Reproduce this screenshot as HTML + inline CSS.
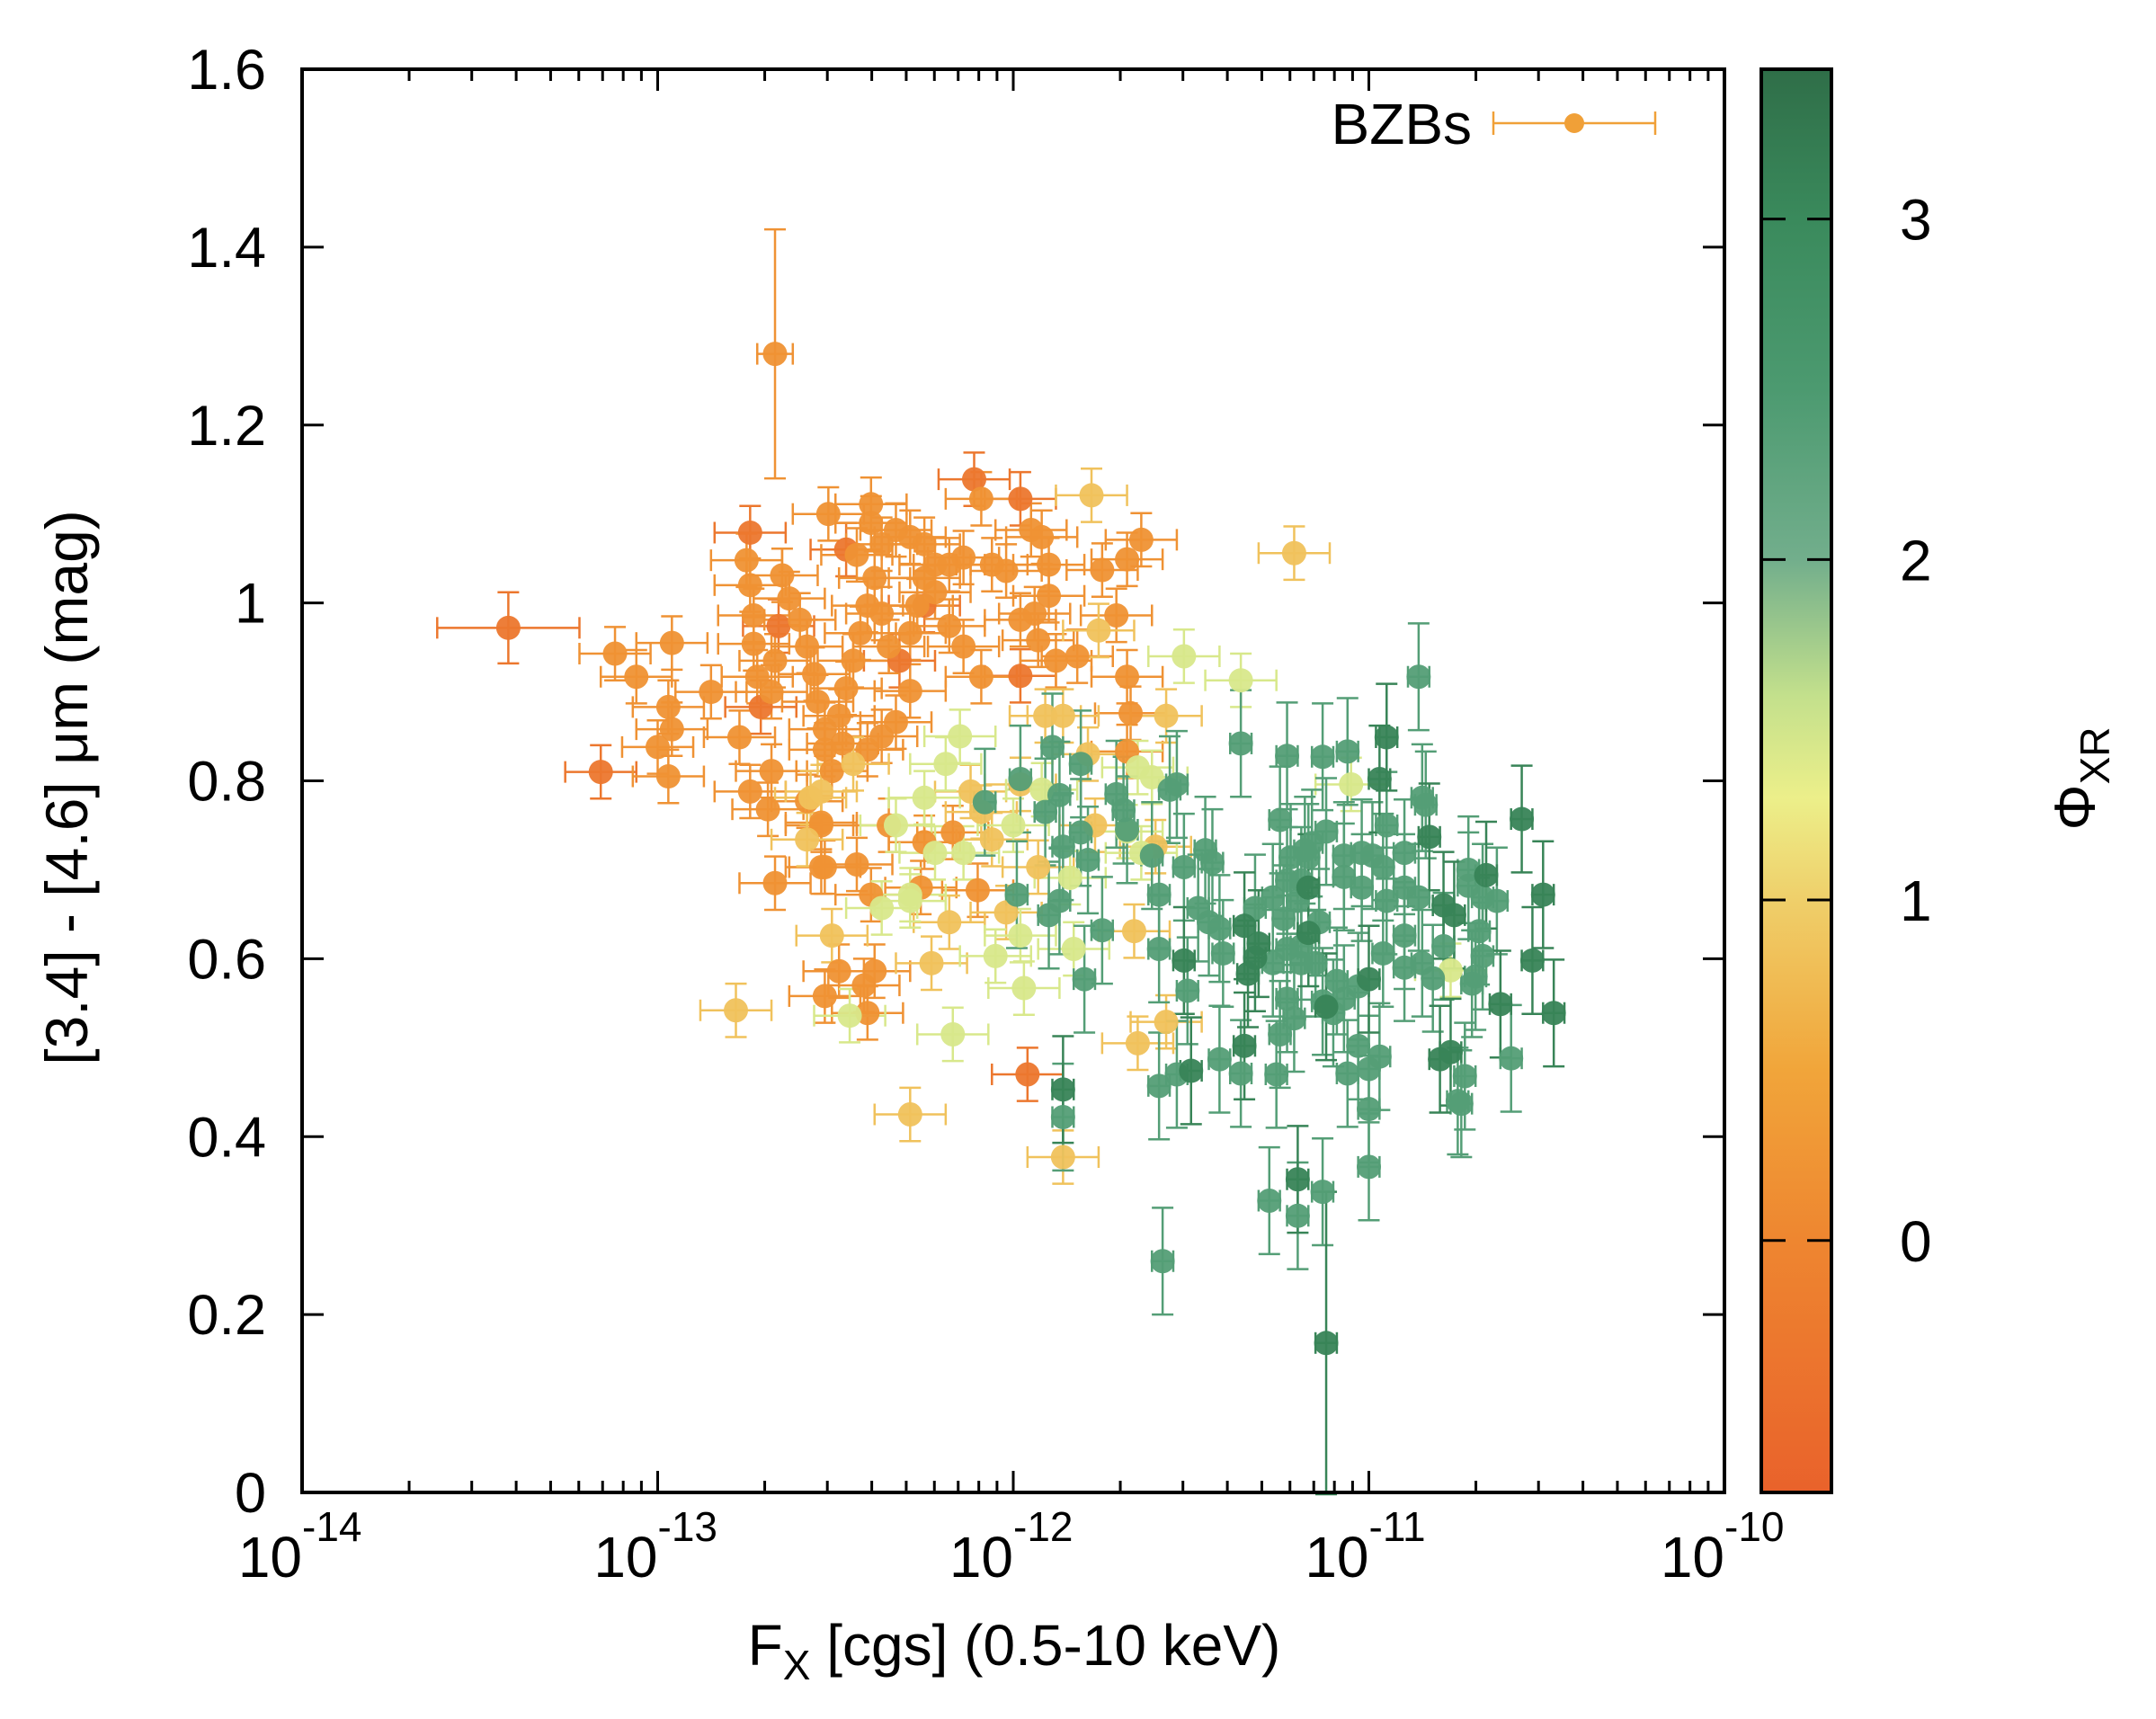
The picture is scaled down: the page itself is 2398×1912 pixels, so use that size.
<!DOCTYPE html>
<html><head><meta charset="utf-8"><style>
html,body{margin:0;padding:0;background:#fff;}
svg{display:block;font-family:"Liberation Sans",sans-serif;}
</style></head><body>
<svg id="chart" width="2398" height="1912" viewBox="0 0 2398 1912" xmlns="http://www.w3.org/2000/svg">
<defs>
<linearGradient id="cbgrad" x1="0" y1="1" x2="0" y2="0"></linearGradient>
</defs>
<g id="errs"></g>
<g id="pts"></g>
<g id="axes"></g>
</svg>
<script>
// ---- data ----
const phiLevels = [-0.3, 0.2, 0.85, 1.45, 2.4, 3.1];
const logFxR = [-13.42,-13.16,-12.74,-12.71,-12.66,-12.47,-12.32,-12.11,-11.98,-12.25,-11.98,-11.96];
const colR   = [0.972,0.810,1.079,0.883,0.974,1.060,0.935,1.139,1.117,0.997,0.918,0.470];
const logFxO = [-12.67,-13.12,-13.06,-12.96,-12.97,-12.96,-12.85,-13.00,-12.97,-12.75,-12.74,-12.73,-12.73,-12.72,-12.77,-12.68,-12.67,-12.65,-12.63,-12.60,-12.58,-12.56,-12.55,-12.53,-12.53,-12.54,-12.54,-12.51,-12.49,-12.47,-12.45,-12.43,-12.41,-12.39,-12.37,-12.33,-12.29,-12.25,-12.52,-12.44,-12.40,-12.40,-12.37,-12.35,-12.29,-12.27,-12.25,-12.22,-12.18,-12.14,-12.09,-12.06,-12.02,-11.95,-11.92,-11.90,-11.90,-11.94,-11.98,-11.93,-11.88,-11.82,-11.75,-11.71,-11.68,-11.64,-11.68,-11.67,-11.68,-12.09,-12.14,-12.18,-12.22,-12.29,-12.33,-12.37,-12.41,-12.48,-12.68,-12.74,-12.69,-12.58,-12.54,-12.53,-12.44,-12.40,-12.67,-12.26,-12.25,-12.17,-12.10,-12.35,-12.53,-12.49,-12.42,-12.39,-12.41];
const colO   = [1.280,0.943,0.917,0.955,0.883,0.858,0.900,0.838,0.805,1.048,1.020,0.986,0.954,0.917,0.849,0.900,0.935,1.031,1.005,0.981,0.951,0.920,0.889,0.858,0.835,0.750,0.703,0.811,0.873,0.904,0.935,0.966,0.997,1.028,1.066,1.082,1.074,1.066,1.100,1.054,1.111,1.090,0.988,0.951,0.966,0.997,1.028,1.043,1.043,1.051,1.117,1.043,1.036,1.082,1.074,1.043,1.008,0.988,0.981,0.958,0.935,0.940,1.037,0.986,1.049,1.071,0.917,0.876,0.833,0.917,0.951,0.974,1.012,0.901,0.866,0.850,0.835,0.842,0.811,0.788,0.768,0.777,0.753,0.703,0.706,0.672,0.685,0.680,0.731,0.742,0.677,0.750,0.558,0.586,0.570,0.586,0.539];
const logFxY = [-12.54,-12.57,-12.45,-12.58,-12.02,-12.51,-12.78,-12.29,-11.86,-11.21,-11.78,-11.76,-11.57,-11.66,-11.60,-11.65,-11.57,-11.79,-11.86,-11.91,-11.77,-12.09,-12.06,-12.18,-12.23,-12.12,-11.98,-11.93];
const colY   = [0.788,0.781,0.819,0.734,0.652,0.626,0.542,0.425,0.377,1.056,1.121,0.969,0.873,0.631,0.726,0.505,0.529,0.830,0.873,0.873,0.750,0.765,0.734,0.641,0.595,0.788,0.796,0.703];
const logFxL = [-12.46,-12.17,-11.36,-11.52,-11.65,-11.61,-11.68,-11.64,-11.83,-11.92,-11.97,-11.84,-12.00,-12.14,-12.29,-12.22,-12.15,-12.19,-12.25,-12.33,-12.29,-12.37,-12.05,-11.98,-11.05,-10.77];
const colL   = [0.536,0.515,0.913,0.940,0.815,0.804,0.743,0.719,0.611,0.790,0.567,0.691,0.750,0.719,0.665,0.719,0.850,0.819,0.781,0.750,0.672,0.657,0.603,0.626,0.796,0.587];
const logFxG = [-11.89,-11.99,-11.98,-12.08,-11.87,-11.91,-11.86,-11.81,-11.81,-11.79,-11.90,-11.87,-11.75,-11.80,-11.71,-11.69,-11.68,-11.61,-11.59,-11.59,-11.56,-11.54,-11.52,-11.46,-11.48,-11.45,-11.41,-11.44,-11.42,-11.51,-11.54,-11.59,-11.58,-11.86,-11.36,-11.25,-11.23,-11.18,-11.17,-11.16,-11.22,-11.23,-11.19,-11.20,-11.24,-11.27,-11.32,-11.27,-11.23,-11.19,-11.23,-11.21,-11.25,-11.26,-11.36,-11.42,-11.13,-11.06,-10.86,-10.85,-10.84,-10.90,-10.95,-10.99,-11.02,-11.07,-11.12,-11.07,-11.02,-10.96,-10.95,-10.90,-10.86,-10.72,-10.72,-10.68,-10.64,-10.69,-10.68,-10.79,-10.85,-10.90,-10.96,-11.03,-11.07,-11.09,-11.13,-11.15,-11.10,-11.19,-11.14,-11.03,-10.97,-11.00,-11.06,-11.00,-11.00,-10.73,-10.74,-10.71,-10.70,-10.60,-11.13,-11.20,-11.28,-10.90,-10.82,-10.75];
const colG   = [0.838,0.672,0.802,0.776,0.784,0.765,0.726,0.742,0.819,0.711,0.649,0.665,0.632,0.577,0.785,0.767,0.745,0.716,0.672,0.611,0.790,0.796,0.703,0.722,0.657,0.641,0.606,0.708,0.634,0.564,0.470,0.457,0.260,0.422,0.842,0.756,0.828,0.722,0.714,0.730,0.714,0.688,0.688,0.665,0.645,0.669,0.657,0.595,0.611,0.595,0.555,0.533,0.515,0.470,0.471,0.487,0.827,0.833,0.917,0.781,0.773,0.719,0.750,0.716,0.719,0.716,0.743,0.692,0.680,0.703,0.665,0.680,0.669,0.682,0.700,0.669,0.665,0.631,0.603,0.614,0.595,0.590,0.606,0.569,0.555,0.575,0.552,0.595,0.539,0.614,0.641,0.502,0.490,0.476,0.471,0.431,0.366,0.468,0.437,0.572,0.580,0.488,0.338,0.311,0.328,0.626,0.578,0.440];
const logFxD = [-11.52,-11.50,-11.86,-11.35,-11.31,-11.32,-11.34,-11.35,-10.97,-10.95,-10.83,-10.79,-10.76,-10.67,-11.00,-11.12,-11.17,-11.17,-10.80,-10.77,-10.63,-10.57,-10.51,-10.54,-10.48,-11.20,-11.12];
const colD   = [0.598,0.474,0.453,0.637,0.617,0.601,0.583,0.502,0.802,0.849,0.737,0.660,0.649,0.694,0.577,0.546,0.680,0.629,0.487,0.495,0.549,0.757,0.672,0.598,0.539,0.352,0.168];
const xTicks = [-14,-13,-12,-11,-10];
const xTickLabels = ["-14","-13","-12","-11","-10"];
const yTicks = [0,0.2,0.4,0.6,0.8,1,1.2,1.4,1.6];
const yTickLabels = ["0","0.2","0.4","0.6","0.8","1","1.2","1.4","1.6"];
const cbTicks = [0,1,2,3];
const cbStops = [-0.74,0,0.5,1.0,1.3,1.6,2.0,2.5,3.0,3.44];
const cbColors = ["#e9622b","#ee8630","#f1a53a","#efcf6a","#ecef8a","#c3e08c","#72ae8c","#4c9a70","#3a8a5c","#2f6e48"];

// ---- geometry ----
const L=336,R=1918,T=77,B=1660, CBL=1959,CBR=2037;
const xs = v => L + (v+14)/4*(R-L);
const ys = v => B - v/1.6*(B-T);
const cbs = v => B - (v-(-0.74))/(3.44+0.74)*(B-T);
const NS="http://www.w3.org/2000/svg";
function mk(tag, attrs, parent){const e=document.createElementNS(NS,tag);for(const k in attrs)e.setAttribute(k,attrs[k]);if(parent)parent.appendChild(e);return e;}
function hex2(c){return [1,3,5].map(i=>parseInt(c.substr(i,2),16));}
function cmap(p){
  if(p<=cbStops[0])return cbColors[0];
  for(let i=1;i<cbStops.length;i++){if(p<=cbStops[i]){const t=(p-cbStops[i-1])/(cbStops[i]-cbStops[i-1]);const a=hex2(cbColors[i-1]),b=hex2(cbColors[i]);return "rgb("+a.map((v,j)=>Math.round(v+(b[j]-v)*t)).join(",")+")";}}
  return cbColors[cbColors.length-1];
}
const gE=document.getElementById('errs'), gP=document.getElementById('pts'), gA=document.getElementById('axes');

const groups=[[logFxR,colR,phiLevels[0]],[logFxO,colO,phiLevels[1]],[logFxY,colY,phiLevels[2]],[logFxL,colL,phiLevels[3]],[logFxG,colG,phiLevels[4]],[logFxD,colD,phiLevels[5]]];
function drawPoint(lx,y,phi){
  const c=cmap(phi);
  const green = phi>1.9;
  let dx = green?0.03:0.1, dy = green?0.06:0.03;
  if(lx<-13.3){dx=0.2;dy=0.04;}
  if(y>1.2){dx=0.05;dy=0.14;}
  if(y<0.2){dy=0.17;}
  const x=xs(lx), yy=ys(y), x1=xs(lx-dx), x2=xs(lx+dx), y1=ys(y-dy), y2=ys(y+dy);
  const g=mk('g',{stroke:c,'stroke-width':2.5},gE);
  
  
  mk('line',{x1:x1,y1:yy,x2:x2,y2:yy},g);
  mk('line',{x1:x1,y1:yy-12,x2:x1,y2:yy+12},g);
  mk('line',{x1:x2,y1:yy-12,x2:x2,y2:yy+12},g);
  mk('line',{x1:x,y1:y1,x2:x,y2:y2},g);
  mk('line',{x1:x-12,y1:y1,x2:x+12,y2:y1},g);
  mk('line',{x1:x-12,y1:y2,x2:x+12,y2:y2},g);
  const p=mk('circle',{cx:x,cy:yy,r:13.5,fill:c,'fill-opacity':0.95},gP);
  
  
}
groups.forEach(([xa,ya,phi])=>{for(let i=0;i<xa.length;i++)drawPoint(xa[i],ya[i],phi);});

// ticks
const tk=mk('g',{stroke:'#000','stroke-width':3},gA);
xTicks.forEach((d,i)=>{
  const x=xs(d);
  mk('line',{x1:x,y1:B,x2:x,y2:B-24},tk);mk('line',{x1:x,y1:T,x2:x,y2:T+24},tk);
  if(i<xTicks.length-1){for(let m=2;m<=9;m++){const xm=xs(d+Math.log10(m));mk('line',{x1:xm,y1:B,x2:xm,y2:B-13},tk);mk('line',{x1:xm,y1:T,x2:xm,y2:T+13},tk);}}
  const t=mk('text',{x:x,y:1754,'text-anchor':'end','font-size':64,fill:'#000'},gA);
  t.textContent='10';
  
  
  const e=mk('text',{x:x,y:1714,'text-anchor':'start','font-size':46,fill:'#000'},gA);
  e.textContent=xTickLabels[i];
  
  
});
yTicks.forEach((v,i)=>{
  const y=ys(v);
  mk('line',{x1:L,y1:y,x2:L+24,y2:y},tk);mk('line',{x1:R,y1:y,x2:R-24,y2:y},tk);
  const t=mk('text',{x:296,y:y+22,'text-anchor':'end','font-size':63,fill:'#000'},gA);
  t.textContent=yTickLabels[i];
  
  
});
const frame=mk('rect',{x:L,y:T,width:R-L,height:B-T,fill:'none',stroke:'#000','stroke-width':4},gA);



// colorbar
const grad=document.getElementById('cbgrad');
cbStops.forEach((s,i)=>mk('stop',{offset:((s+0.74)/4.18),'stop-color':cbColors[i]},grad));
const cb=mk('rect',{x:CBL,y:T,width:CBR-CBL,height:B-T,fill:'url(#cbgrad)',stroke:'#000','stroke-width':4},gA);


const cbtk=mk('g',{stroke:'#000','stroke-width':3},gA);


cbTicks.forEach(v=>{
  const y=cbs(v);
  mk('line',{x1:CBL,y1:y,x2:CBL+27,y2:y},cbtk);mk('line',{x1:CBR-27,y1:y,x2:CBR,y2:y},cbtk);
  const t=mk('text',{x:2113,y:y+23,'font-size':64,fill:'#000'},gA);
  t.textContent=String(v);
  
  
});
</script>
<svg style="position:absolute;left:0;top:0" width="2398" height="1912" xmlns="http://www.w3.org/2000/svg">
<g font-family="Liberation Sans, sans-serif" fill="#000">
<text x="1128" y="1852" font-size="64" text-anchor="middle">F<tspan font-size="46" dy="16">X</tspan><tspan dy="-16"> [cgs] (0.5-10 keV)</tspan></text>
<text transform="translate(97,876) rotate(-90)" font-size="66" text-anchor="middle">[3.4] - [4.6] μm (mag)</text>
<text transform="translate(2330,866) rotate(-90)" font-size="64" text-anchor="middle">Φ<tspan font-size="46" dy="16">XR</tspan></text>
<g>
<text x="1637" y="160" font-size="64" text-anchor="end">BZBs</text>
<g stroke="#f0a038" stroke-width="2.5">
<line x1="1661" y1="137" x2="1841" y2="137"/><line x1="1661" y1="124" x2="1661" y2="150"/><line x1="1841" y1="124" x2="1841" y2="150"/>
</g>
<circle cx="1751" cy="137" r="11" fill="#f0a038"/>
</g>
</g>
</svg>
</body></html>
